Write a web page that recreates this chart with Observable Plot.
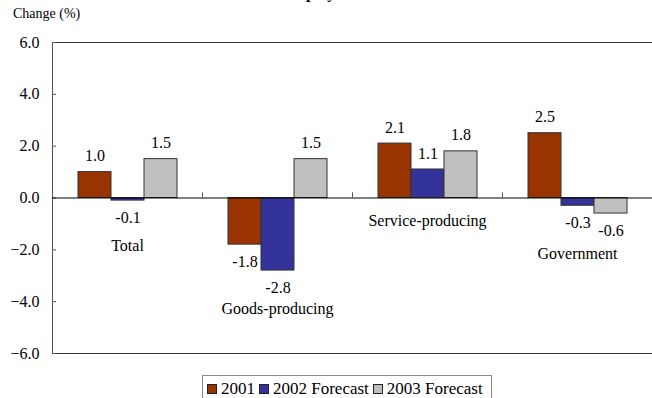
<!DOCTYPE html>
<html>
<head>
<meta charset="utf-8">
<script src="https://cdn.jsdelivr.net/npm/d3@7"></script>
<script src="https://cdn.jsdelivr.net/npm/@observablehq/plot@0.6"></script>
<style>
  html, body { margin: 0; padding: 0; background: #fff; }
  #wrap { position: relative; width: 652px; height: 398px; overflow: hidden; font-family: "Liberation Serif", "Times New Roman", serif; color: #000; }
  #title { position: absolute; left: 0; width: 652px; top: -15px; line-height: 16px; text-align: center; font-size: 16px; font-weight: bold; }
  #ylabel { position: absolute; left: 13px; top: 6px; font-size: 14px; line-height: 16px; }
  #chart { position: absolute; left: 0; top: 0; }
  #chart svg, #chart svg text { font-family: "Liberation Serif", "Times New Roman", serif !important; }
  #legend { position: absolute; left: 202px; top: 375px; width: 290px; height: 30px; border: 1px solid #8a8a8a; box-sizing: border-box; display: flex; align-items: flex-start; padding: 4px 0 0 4px; font-size: 17px; line-height: 18px; white-space: nowrap; }
  #legend .item { display: flex; align-items: center; margin-right: 4px; }
  #legend .sw { width: 8px; height: 8px; border: 1px solid #222; margin-right: 4px; }
</style>
</head>
<body>
<div id="wrap">
  <div id="chart"></div>
  <div id="title">Employment</div>
  <div id="ylabel">Change (%)</div>
  <div id="legend"></div>
</div>
<script>
// Employment change by sector, actual and forecast
const categories = ["Total", "Goods-producing", "Service-producing", "Government"];
const seriesNames = ["2001", "2002 Forecast", "2003 Forecast"];
const values2001 = [1.0, -1.8, 2.1, 2.5];
const values2002 = [-0.1, -2.8, 1.1, -0.3];
const values2003 = [1.5, 1.5, 1.8, -0.6];
const seriesColors = ["#993300", "#333399", "#c0c0c0"];
const yTicks = [-6, -4, -2, 0, 2, 4, 6];
// vertical level (in % units) at which each sector name is written
const nameLevels = [-1.85, -4.28, -0.9, -2.16];

const seriesValues = [values2001, values2002, values2003];
const rows = categories.flatMap((category, i) =>
  seriesNames.map((series, j) => ({category, series, value: seriesValues[j][i]}))
);

const serif = "'Liberation Serif', 'Times New Roman', serif";
const width = 652, height = 372;
const marginLeft = 52, marginRight = 0, marginTop = 42, marginBottom = 19;
const groupWidth = (width - marginLeft - marginRight) / categories.length;

const chart = Plot.plot({
  width, height, marginLeft, marginRight, marginTop, marginBottom,
  style: {fontFamily: serif, fontSize: "16px", color: "#000", background: "transparent"},
  fx: {domain: categories, padding: 0, axis: null},
  x: {domain: seriesNames, paddingInner: 0, paddingOuter: 0.75, axis: null},
  y: {domain: [-6, 6], axis: null},
  color: {domain: seriesNames, range: seriesColors},
  marks: [
    // top and bottom edges of the plotting area
    Plot.ruleY([-6, 6], {stroke: "#333", strokeWidth: 1}),
    // left axis line, drawn in the first group only
    Plot.ruleX([categories[0]], {fx: d => d, x: null, y1: -6, y2: 6, dx: -groupWidth / 2, stroke: "#555"}),
    Plot.axisY(yTicks, {
      facetAnchor: "left", anchor: "left", tickSize: -4, tickPadding: 17, label: null,
      tickFormat: d3.format(".1f"), fontSize: 16, fontFamily: serif, stroke: "#555"
    }),
    Plot.barY(rows, {fx: "category", x: "series", y: "value", fill: "series", stroke: "#333", strokeWidth: 1}),
    Plot.ruleY([0], {stroke: "#000", strokeWidth: 1}),
    // small separators between sector groups on the zero line
    Plot.ruleX(categories.slice(1), {fx: d => d, x: null, y1: 0, y2: 0.2, dx: -groupWidth / 2, stroke: "#555"}),
    Plot.text(rows.filter(d => d.value >= 0), {
      fx: "category", x: "series", y: "value", text: d => d.value.toFixed(1),
      dy: -16, fontSize: 16, fontFamily: serif
    }),
    Plot.text(rows.filter(d => d.value < 0), {
      fx: "category", x: "series", y: "value", text: d => d.value.toFixed(1),
      dy: 17, fontSize: 16, fontFamily: serif
    }),
    Plot.text(categories, {fx: d => d, y: (d, i) => nameLevels[i], text: d => d, fontSize: 16, fontFamily: serif})
  ]
});
document.getElementById("chart").append(chart);

const legend = document.getElementById("legend");
seriesNames.forEach((name, i) => {
  const item = document.createElement("div");
  item.className = "item";
  const sw = document.createElement("span");
  sw.className = "sw";
  sw.style.background = seriesColors[i];
  const label = document.createElement("span");
  label.textContent = name;
  item.append(sw, label);
  legend.append(item);
});
</script>
</body>
</html>
